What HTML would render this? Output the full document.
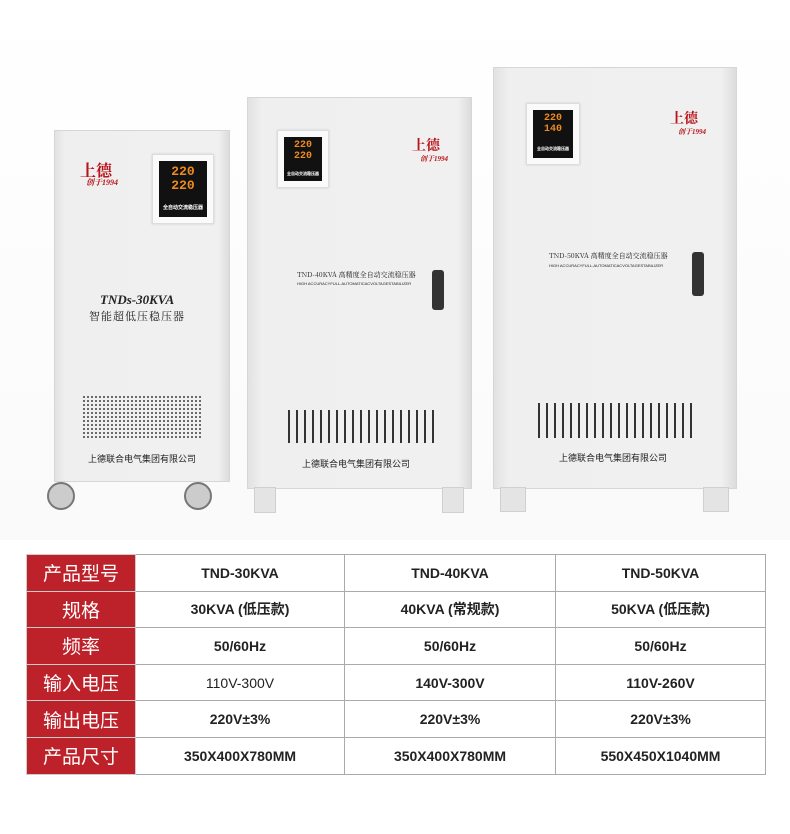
<!DOCTYPE html>
<html><head><meta charset="utf-8"><style>
body{margin:0;width:790px;height:834px;background:#fff;position:relative;overflow:hidden;font-family:"Liberation Sans","Noto Sans CJK SC",sans-serif}
.a{position:absolute}
.cab{position:absolute;background:linear-gradient(90deg,#e2e2e2,#efefef 6%,#f0f0f0 94%,#dcdcdc);border:1px solid #d6d6d6}
.disp{position:absolute;background:#fafafa;border:1px solid #ddd;box-shadow:0 0 2px #ccc}
.scr{position:absolute;left:6px;top:6px;right:6px;bottom:6px;background:#111;color:#f08a1c;font-weight:bold;text-align:center;font-family:"Liberation Mono",monospace}
.grill{position:absolute;background:repeating-linear-gradient(90deg,#333 0 2px,transparent 2px 8px)}
.dots{position:absolute;background:radial-gradient(circle,#555 0.9px,transparent 1.2px) 0 0/4px 4px}
.co{position:absolute;font-size:9px;color:#222;white-space:nowrap}
.logo{position:absolute;color:#b8141a;font-weight:bold;font-family:"Liberation Serif","Noto Serif CJK SC",serif}
.leg{position:absolute;background:#e4e4e4;border:1px solid #d0d0d0}
.handle{position:absolute;background:#333;border-radius:3px}
table{position:absolute;left:26px;top:554px;border-collapse:collapse;width:740px}
td{border:1px solid #aaa;height:35.6px;text-align:center;font-size:14px;font-weight:bold;color:#222;padding:0}
td.h{background:#bd2129;color:#fff;font-size:19px;font-weight:normal;width:108px;border-color:#ccc}
</style></head><body>
<div class="a" style="left:0;top:0;width:790px;height:540px;background:linear-gradient(#fff,#fafafa)"></div>

<div class="cab" style="left:54px;top:130px;width:174px;height:350px"></div>
<div class="logo" style="left:80px;top:158px;font-size:16px">上德</div>
<div class="logo" style="left:86px;top:177px;font-size:8px;font-style:italic">创于1994</div>
<div class="disp" style="left:152px;top:154px;width:60px;height:68px"><div class="scr" style="font-size:13px;line-height:14px;padding-top:4px">220<br>220<div style="font-size:5px;color:#fff;margin-top:8px">全自动交流稳压器</div></div></div>
<div class="a" style="left:100px;top:292px;font:italic bold 13px 'Liberation Serif',serif;color:#222">TNDs-30KVA</div>
<div class="a" style="left:89px;top:308px;font-size:11px;color:#222;font-family:'Noto Serif CJK SC',serif;letter-spacing:1px">智能超低压稳压器</div>
<div class="dots" style="left:82px;top:395px;width:120px;height:44px"></div>
<div class="co" style="left:88px;top:452px">上德联合电气集团有限公司</div>
<div class="a" style="left:47px;top:482px;width:28px;height:28px;border-radius:50%;background:#ccc;border:2px solid #777;box-sizing:border-box"></div>
<div class="a" style="left:184px;top:482px;width:28px;height:28px;border-radius:50%;background:#ccc;border:2px solid #777;box-sizing:border-box"></div>

<div class="cab" style="left:247px;top:97px;width:223px;height:390px"></div>
<div class="disp" style="left:277px;top:130px;width:50px;height:56px"><div class="scr" style="font-size:10px;line-height:11px;padding-top:3px">220<br>220<div style="font-size:4px;color:#fff;margin-top:8px">全自动交流稳压器</div></div></div>
<div class="logo" style="left:412px;top:135px;font-size:14px">上德</div>
<div class="logo" style="left:420px;top:154px;font-size:7px;font-style:italic">创于1994</div>
<div class="a" style="left:297px;top:270px;font-size:7px;color:#222;font-family:'Noto Serif CJK SC',serif">TND-40KVA 高精度全自动交流稳压器</div>
<div class="a" style="left:297px;top:281px;font-size:4px;color:#222">HIGH ACCURACYFULL-AUTOMATICACVOLTAGESTABILIZER</div>
<div class="handle" style="left:432px;top:270px;width:12px;height:40px"></div>
<div class="grill" style="left:288px;top:410px;width:146px;height:33px"></div>
<div class="co" style="left:302px;top:457px">上德联合电气集团有限公司</div>
<div class="leg" style="left:254px;top:487px;width:20px;height:24px"></div>
<div class="leg" style="left:442px;top:487px;width:20px;height:24px"></div>

<div class="cab" style="left:493px;top:67px;width:242px;height:420px"></div>
<div class="disp" style="left:526px;top:103px;width:52px;height:60px"><div class="scr" style="font-size:10px;line-height:11px;padding-top:3px">220<br>140<div style="font-size:4px;color:#fff;margin-top:10px">全自动交流稳压器</div></div></div>
<div class="logo" style="left:670px;top:108px;font-size:14px">上德</div>
<div class="logo" style="left:678px;top:127px;font-size:7px;font-style:italic">创于1994</div>
<div class="a" style="left:549px;top:251px;font-size:7px;color:#222;font-family:'Noto Serif CJK SC',serif">TND-50KVA 高精度全自动交流稳压器</div>
<div class="a" style="left:549px;top:263px;font-size:4px;color:#222">HIGH ACCURACYFULL-AUTOMATICACVOLTAGESTABILIZER</div>
<div class="handle" style="left:692px;top:252px;width:12px;height:44px"></div>
<div class="grill" style="left:538px;top:403px;width:154px;height:35px"></div>
<div class="co" style="left:559px;top:451px">上德联合电气集团有限公司</div>
<div class="leg" style="left:500px;top:487px;width:24px;height:23px"></div>
<div class="leg" style="left:703px;top:487px;width:24px;height:23px"></div>

<table>
<tr><td class="h">产品型号</td><td style="width:208px">TND-30KVA</td><td style="width:210px">TND-40KVA</td><td>TND-50KVA</td></tr>
<tr><td class="h">规格</td><td>30KVA (低压款)</td><td>40KVA (常规款)</td><td>50KVA (低压款)</td></tr>
<tr><td class="h">频率</td><td>50/60Hz</td><td>50/60Hz</td><td>50/60Hz</td></tr>
<tr><td class="h">输入电压</td><td style="font-weight:normal">110V-300V</td><td>140V-300V</td><td>110V-260V</td></tr>
<tr><td class="h">输出电压</td><td>220V±3%</td><td>220V±3%</td><td>220V±3%</td></tr>
<tr><td class="h">产品尺寸</td><td>350X400X780MM</td><td>350X400X780MM</td><td>550X450X1040MM</td></tr>
</table>
</body></html>
